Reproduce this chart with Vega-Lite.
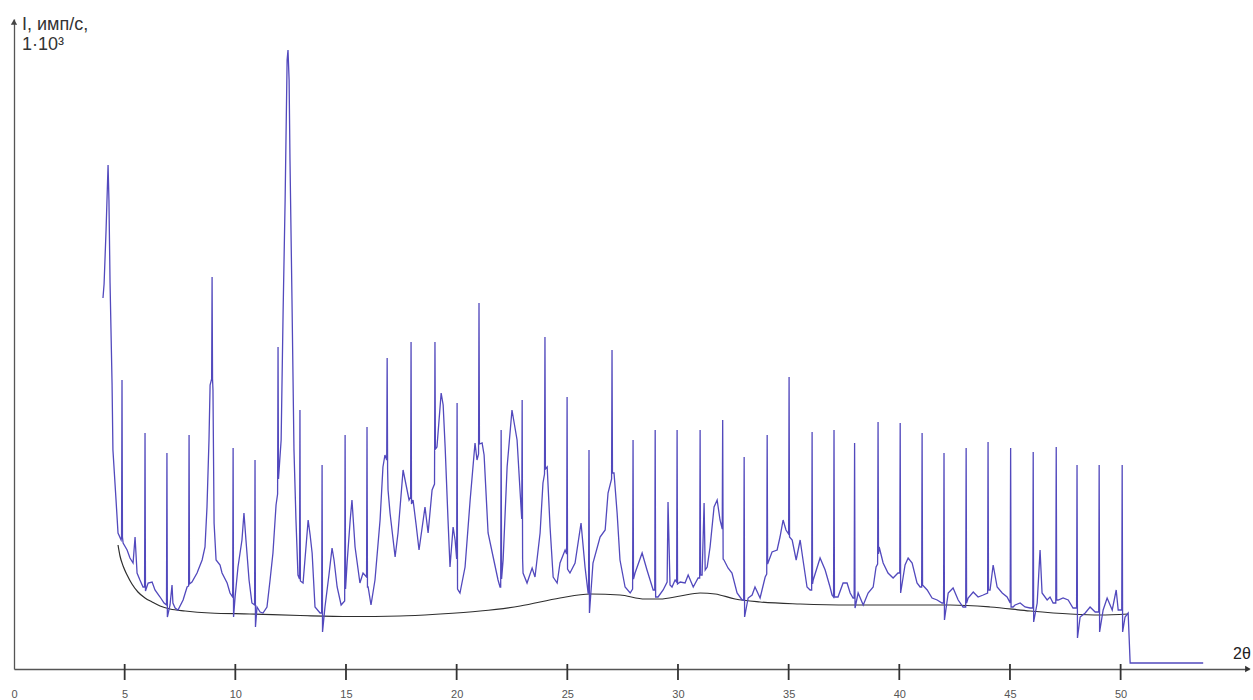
{
  "$schema": "https://vega.github.io/schema/vega-lite/v6.json",
  "width": 1235,
  "height": 650,
  "autosize": {"type": "none"},
  "padding": {"left": 14, "top": 19, "right": 4, "bottom": 31},
  "background": "white",
  "config": {
    "view": {"stroke": null},
    "font": "Liberation Sans",
    "axis": {"grid": false}
  },
  "datasets": {
    "curve": [
      {"t":4.02,"i":371},{"t":4.07,"i":385},{"t":4.16,"i":439},{"t":4.25,"i":504},{"t":4.29,"i":469},{"t":4.34,"i":386},{"t":4.43,"i":286},{"t":4.47,"i":219},{"t":4.61,"i":169},{"t":4.70,"i":136},{"t":4.84,"i":129},{"t":4.86,"i":132},{"t":4.88,"i":289},{"t":4.90,"i":132},{"t":4.93,"i":126},{"t":5.11,"i":119},{"t":5.24,"i":111},{"t":5.38,"i":106},{"t":5.47,"i":132},{"t":5.56,"i":96},{"t":5.69,"i":89},{"t":5.83,"i":82},{"t":5.90,"i":82},{"t":5.92,"i":236},{"t":5.94,"i":78},{"t":6.06,"i":86},{"t":6.24,"i":87},{"t":6.37,"i":79},{"t":6.60,"i":72},{"t":6.78,"i":66},{"t":6.89,"i":64},{"t":6.91,"i":216},{"t":6.93,"i":52},{"t":7.05,"i":64},{"t":7.14,"i":84},{"t":7.18,"i":66},{"t":7.28,"i":61},{"t":7.41,"i":59},{"t":7.64,"i":69},{"t":7.82,"i":82},{"t":7.89,"i":83},{"t":7.91,"i":234},{"t":7.93,"i":85},{"t":8.04,"i":87},{"t":8.27,"i":96},{"t":8.50,"i":109},{"t":8.63,"i":122},{"t":8.72,"i":162},{"t":8.81,"i":229},{"t":8.86,"i":284},{"t":8.93,"i":290},{"t":8.95,"i":392},{"t":8.97,"i":290},{"t":8.99,"i":279},{"t":9.04,"i":146},{"t":9.13,"i":109},{"t":9.31,"i":104},{"t":9.40,"i":96},{"t":9.63,"i":86},{"t":9.76,"i":76},{"t":9.88,"i":72},{"t":9.90,"i":221},{"t":9.92,"i":52},{"t":9.99,"i":72},{"t":10.12,"i":102},{"t":10.30,"i":129},{"t":10.39,"i":156},{"t":10.48,"i":129},{"t":10.62,"i":89},{"t":10.75,"i":66},{"t":10.87,"i":64},{"t":10.89,"i":209},{"t":10.91,"i":42},{"t":10.98,"i":62},{"t":11.12,"i":57},{"t":11.25,"i":56},{"t":11.43,"i":62},{"t":11.57,"i":89},{"t":11.70,"i":116},{"t":11.84,"i":164},{"t":11.91,"i":175},{"t":11.93,"i":322},{"t":11.95,"i":190},{"t":12.07,"i":229},{"t":12.16,"i":359},{"t":12.25,"i":469},{"t":12.34,"i":609},{"t":12.38,"i":619},{"t":12.43,"i":589},{"t":12.47,"i":509},{"t":12.56,"i":369},{"t":12.65,"i":219},{"t":12.74,"i":149},{"t":12.83,"i":94},{"t":12.90,"i":90},{"t":12.92,"i":259},{"t":12.94,"i":88},{"t":13.06,"i":86},{"t":13.20,"i":124},{"t":13.29,"i":149},{"t":13.38,"i":134},{"t":13.47,"i":116},{"t":13.60,"i":62},{"t":13.83,"i":56},{"t":13.90,"i":56},{"t":13.92,"i":204},{"t":13.94,"i":37},{"t":14.05,"i":62},{"t":14.23,"i":94},{"t":14.37,"i":121},{"t":14.46,"i":109},{"t":14.60,"i":82},{"t":14.78,"i":64},{"t":14.94,"i":68},{"t":14.96,"i":234},{"t":14.98,"i":80},{"t":15.05,"i":106},{"t":15.19,"i":149},{"t":15.27,"i":169},{"t":15.41,"i":122},{"t":15.63,"i":86},{"t":15.77,"i":96},{"t":15.93,"i":92},{"t":15.95,"i":242},{"t":15.97,"i":82},{"t":16.00,"i":82},{"t":16.13,"i":64},{"t":16.31,"i":89},{"t":16.54,"i":149},{"t":16.67,"i":202},{"t":16.76,"i":214},{"t":16.84,"i":209},{"t":16.86,"i":311},{"t":16.88,"i":200},{"t":16.90,"i":179},{"t":16.99,"i":156},{"t":17.22,"i":112},{"t":17.35,"i":136},{"t":17.58,"i":199},{"t":17.76,"i":179},{"t":17.85,"i":169},{"t":17.92,"i":172},{"t":17.94,"i":327},{"t":17.96,"i":165},{"t":18.03,"i":169},{"t":18.17,"i":144},{"t":18.30,"i":119},{"t":18.57,"i":162},{"t":18.71,"i":136},{"t":18.89,"i":179},{"t":19.00,"i":185},{"t":19.02,"i":327},{"t":19.04,"i":220},{"t":19.11,"i":222},{"t":19.30,"i":276},{"t":19.39,"i":264},{"t":19.48,"i":222},{"t":19.61,"i":149},{"t":19.70,"i":102},{"t":19.84,"i":142},{"t":19.93,"i":129},{"t":20.00,"i":110},{"t":20.02,"i":266},{"t":20.04,"i":80},{"t":20.15,"i":76},{"t":20.38,"i":102},{"t":20.61,"i":169},{"t":20.83,"i":226},{"t":20.92,"i":209},{"t":20.99,"i":215},{"t":21.01,"i":366},{"t":21.03,"i":225},{"t":21.15,"i":226},{"t":21.24,"i":214},{"t":21.42,"i":136},{"t":21.65,"i":112},{"t":21.87,"i":89},{"t":21.96,"i":82},{"t":21.99,"i":82},{"t":22.01,"i":239},{"t":22.03,"i":90},{"t":22.10,"i":109},{"t":22.28,"i":202},{"t":22.50,"i":259},{"t":22.73,"i":229},{"t":22.87,"i":176},{"t":22.94,"i":150},{"t":22.96,"i":269},{"t":22.98,"i":110},{"t":23.00,"i":96},{"t":23.18,"i":86},{"t":23.41,"i":101},{"t":23.54,"i":92},{"t":23.77,"i":136},{"t":23.90,"i":186},{"t":23.97,"i":195},{"t":23.99,"i":332},{"t":24.01,"i":200},{"t":24.09,"i":202},{"t":24.22,"i":142},{"t":24.36,"i":92},{"t":24.54,"i":86},{"t":24.67,"i":106},{"t":24.90,"i":119},{"t":24.97,"i":115},{"t":24.99,"i":272},{"t":25.01,"i":100},{"t":25.12,"i":96},{"t":25.35,"i":106},{"t":25.62,"i":146},{"t":25.80,"i":102},{"t":25.94,"i":76},{"t":25.96,"i":76},{"t":25.98,"i":219},{"t":26.00,"i":56},{"t":26.16,"i":106},{"t":26.48,"i":132},{"t":26.71,"i":139},{"t":26.84,"i":176},{"t":27.00,"i":190},{"t":27.02,"i":319},{"t":27.04,"i":196},{"t":27.11,"i":196},{"t":27.25,"i":156},{"t":27.38,"i":109},{"t":27.61,"i":82},{"t":27.84,"i":76},{"t":27.95,"i":80},{"t":27.97,"i":229},{"t":27.99,"i":90},{"t":28.06,"i":96},{"t":28.38,"i":116},{"t":28.60,"i":99},{"t":28.74,"i":89},{"t":28.88,"i":79},{"t":28.95,"i":79},{"t":28.97,"i":239},{"t":28.99,"i":72},{"t":29.10,"i":72},{"t":29.33,"i":79},{"t":29.51,"i":87},{"t":29.55,"i":167},{"t":29.64,"i":84},{"t":29.73,"i":82},{"t":29.87,"i":89},{"t":29.94,"i":87},{"t":29.96,"i":239},{"t":29.98,"i":85},{"t":30.10,"i":87},{"t":30.32,"i":86},{"t":30.46,"i":94},{"t":30.69,"i":82},{"t":30.91,"i":91},{"t":30.98,"i":91},{"t":31.00,"i":239},{"t":31.02,"i":94},{"t":31.09,"i":94},{"t":31.18,"i":166},{"t":31.23,"i":99},{"t":31.32,"i":102},{"t":31.45,"i":122},{"t":31.63,"i":162},{"t":31.77,"i":169},{"t":31.90,"i":149},{"t":32.00,"i":140},{"t":32.02,"i":249},{"t":32.04,"i":110},{"t":32.08,"i":109},{"t":32.26,"i":101},{"t":32.44,"i":96},{"t":32.67,"i":76},{"t":32.90,"i":69},{"t":32.97,"i":69},{"t":32.99,"i":212},{"t":33.01,"i":52},{"t":33.17,"i":71},{"t":33.35,"i":74},{"t":33.48,"i":82},{"t":33.71,"i":71},{"t":33.94,"i":92},{"t":34.01,"i":95},{"t":34.03,"i":234},{"t":34.05,"i":105},{"t":34.25,"i":117},{"t":34.48,"i":119},{"t":34.61,"i":132},{"t":34.75,"i":149},{"t":34.88,"i":139},{"t":35.00,"i":135},{"t":35.02,"i":292},{"t":35.04,"i":132},{"t":35.16,"i":129},{"t":35.34,"i":109},{"t":35.52,"i":129},{"t":35.65,"i":109},{"t":35.83,"i":82},{"t":35.97,"i":79},{"t":36.04,"i":79},{"t":36.06,"i":237},{"t":36.08,"i":85},{"t":36.11,"i":89},{"t":36.42,"i":111},{"t":36.65,"i":99},{"t":36.87,"i":82},{"t":36.96,"i":74},{"t":37.03,"i":72},{"t":37.05,"i":239},{"t":37.07,"i":72},{"t":37.23,"i":72},{"t":37.46,"i":86},{"t":37.64,"i":86},{"t":37.78,"i":76},{"t":37.91,"i":71},{"t":37.96,"i":71},{"t":37.98,"i":226},{"t":38.00,"i":61},{"t":38.14,"i":76},{"t":38.37,"i":64},{"t":38.59,"i":76},{"t":38.82,"i":82},{"t":38.95,"i":102},{"t":39.02,"i":105},{"t":39.04,"i":247},{"t":39.06,"i":115},{"t":39.09,"i":122},{"t":39.18,"i":114},{"t":39.27,"i":106},{"t":39.49,"i":96},{"t":39.72,"i":91},{"t":39.94,"i":96},{"t":40.02,"i":96},{"t":40.04,"i":246},{"t":40.06,"i":76},{"t":40.26,"i":104},{"t":40.40,"i":111},{"t":40.58,"i":106},{"t":40.80,"i":86},{"t":40.94,"i":82},{"t":41.01,"i":82},{"t":41.03,"i":236},{"t":41.05,"i":84},{"t":41.26,"i":79},{"t":41.48,"i":71},{"t":41.71,"i":69},{"t":41.93,"i":66},{"t":42.00,"i":66},{"t":42.02,"i":216},{"t":42.04,"i":49},{"t":42.21,"i":76},{"t":42.43,"i":81},{"t":42.66,"i":69},{"t":42.88,"i":62},{"t":43.00,"i":62},{"t":43.02,"i":221},{"t":43.04,"i":66},{"t":43.11,"i":71},{"t":43.34,"i":77},{"t":43.56,"i":72},{"t":43.79,"i":74},{"t":43.99,"i":76},{"t":44.01,"i":227},{"t":44.03,"i":79},{"t":44.10,"i":79},{"t":44.24,"i":104},{"t":44.42,"i":82},{"t":44.65,"i":76},{"t":44.87,"i":72},{"t":45.01,"i":66},{"t":45.03,"i":221},{"t":45.05,"i":62},{"t":45.14,"i":62},{"t":45.23,"i":64},{"t":45.46,"i":66},{"t":45.68,"i":62},{"t":45.91,"i":61},{"t":46.03,"i":61},{"t":46.05,"i":217},{"t":46.07,"i":47},{"t":46.23,"i":66},{"t":46.36,"i":119},{"t":46.45,"i":76},{"t":46.68,"i":69},{"t":46.81,"i":72},{"t":46.95,"i":66},{"t":47.07,"i":66},{"t":47.09,"i":222},{"t":47.11,"i":69},{"t":47.18,"i":69},{"t":47.40,"i":71},{"t":47.63,"i":69},{"t":47.85,"i":61},{"t":48.01,"i":61},{"t":48.03,"i":204},{"t":48.05,"i":31},{"t":48.17,"i":52},{"t":48.40,"i":56},{"t":48.62,"i":62},{"t":48.85,"i":57},{"t":49.01,"i":57},{"t":49.03,"i":204},{"t":49.05,"i":37},{"t":49.21,"i":59},{"t":49.39,"i":71},{"t":49.62,"i":59},{"t":49.80,"i":79},{"t":49.89,"i":59},{"t":50.05,"i":59},{"t":50.07,"i":204},{"t":50.09,"i":37},{"t":50.20,"i":52},{"t":50.34,"i":56},{"t":50.43,"i":6},{"t":53.73,"i":6}
    ],
    "baseline": [
      {"t":4.70,"i":124},{"t":4.79,"i":113},{"t":4.93,"i":103},{"t":5.11,"i":94},{"t":5.33,"i":85},{"t":5.60,"i":77},{"t":5.92,"i":71},{"t":6.24,"i":67},{"t":6.60,"i":63},{"t":7.05,"i":60},{"t":7.73,"i":58},{"t":8.86,"i":56},{"t":10.66,"i":55},{"t":12.92,"i":53.5},{"t":15.18,"i":52.5},{"t":17.44,"i":53},{"t":19.25,"i":55},{"t":21.06,"i":58},{"t":22.87,"i":63},{"t":24.67,"i":71},{"t":26.03,"i":75},{"t":27.38,"i":74},{"t":28.51,"i":70},{"t":29.19,"i":70},{"t":30.10,"i":73},{"t":31.00,"i":76},{"t":31.68,"i":75},{"t":32.58,"i":70},{"t":33.71,"i":67},{"t":35.52,"i":65},{"t":37.78,"i":64},{"t":40.04,"i":64},{"t":42.30,"i":64},{"t":44.10,"i":62},{"t":45.91,"i":58},{"t":47.72,"i":55},{"t":49.07,"i":54},{"t":50.34,"i":55}
    ],
    "tickpos": [
      {"t":5},{"t":10},{"t":15},{"t":20},{"t":25},{"t":30},{"t":35},{"t":40},{"t":45},{"t":50}
    ]
  },
  "layer": [
    {
      "data": {"name": "baseline"},
      "mark": {"type": "line", "color": "#2e2e2e", "strokeWidth": 1.2, "interpolate": "monotone"},
      "encoding": {
        "x": {"field": "t", "type": "quantitative", "scale": {"domain": [0, 55.8], "nice": false, "zero": false},
              "axis": {"title": null, "values": [0,5,10,15,20,25,30,35,40,45,50], "ticks": false,
                       "domainColor": "#555555", "domainWidth": 1.3, "labelColor": "#555555", "labelFontSize": 11, "labelPadding": 19, "labelFlush": false}},
        "y": {"field": "i", "type": "quantitative", "scale": {"domain": [0, 650], "nice": false, "zero": false},
              "axis": {"title": null, "labels": false, "ticks": false, "domainColor": "#555555", "domainWidth": 1.3}}
      }
    },
    {
      "data": {"name": "tickpos"},
      "mark": {"type": "tick", "orient": "vertical", "color": "#333333", "size": 16, "thickness": 1.8, "opacity": 1},
      "encoding": {
        "x": {"field": "t", "type": "quantitative"},
        "y": {"datum": -3}
      }
    },
    {
      "data": {"name": "curve"},
      "mark": {"type": "line", "color": "#5249bd", "strokeWidth": 1.3, "interpolate": "linear"},
      "encoding": {
        "x": {"field": "t", "type": "quantitative"},
        "y": {"field": "i", "type": "quantitative"}
      }
    },
    {
      "data": {"values": [{}]},
      "mark": {"type": "point", "shape": "triangle-up", "filled": true, "color": "#444444", "size": 40, "opacity": 1},
      "encoding": {"x": {"datum": 0}, "y": {"datum": 647}}
    },
    {
      "data": {"values": [{}]},
      "mark": {"type": "point", "shape": "triangle-right", "filled": true, "color": "#333333", "size": 40, "opacity": 1},
      "encoding": {"x": {"datum": 55.75}, "y": {"datum": 0}}
    },
    {
      "data": {"values": [{}]},
      "mark": {"type": "text", "text": ["I, имп/с,", "1·10³"], "align": "left", "baseline": "alphabetic", "fontSize": 18, "lineHeight": 20, "color": "#333333"},
      "encoding": {"x": {"datum": 0.36}, "y": {"datum": 639}}
    },
    {
      "data": {"values": [{}]},
      "mark": {"type": "text", "text": "2θ", "align": "left", "baseline": "middle", "fontSize": 16, "color": "#222222"},
      "encoding": {"x": {"datum": 55.08}, "y": {"datum": 15}}
    }
  ]
}
